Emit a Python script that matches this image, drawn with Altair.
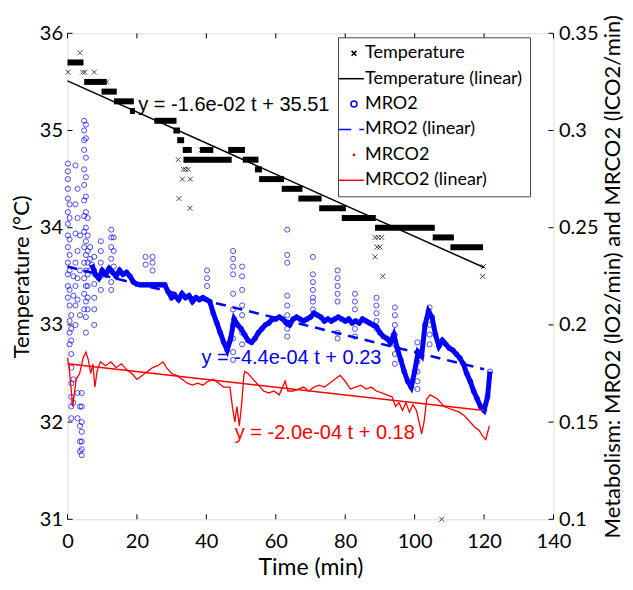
import altair as alt
import pandas as pd

# ---------------- data ----------------
# Temperature: runs of constant readings (level, start, end) in minutes
run_temp  = [35.7, 35.5, 35.4, 35.3, 35.2, 35.1, 35.0, 34.9, 34.8, 34.7, 34.8, 34.8, 34.7, 34.6, 34.5, 34.4, 34.3, 34.2, 34.1, 34.0, 33.9, 33.8]
run_start = [0.0,  4.8,  9.8,  13.4, 18.0, 25.0, 30.5, 31.6, 33.2, 33.4, 38.2, 46.3, 50.5, 54.0, 55.2, 61.7, 66.5, 72.5, 79.0, 88.6, 105.2, 110.3]
run_end   = [4.6,  11.3, 14.2, 19.1, 19.4, 31.4, 32.4, 33.6, 35.8, 47.3, 42.0, 51.1, 55.0, 56.0, 62.4, 67.7, 73.2, 80.2, 88.8, 105.8, 111.3, 119.7]
# isolated temperature readings
iso_t    = [0.2, 3.6, 4.3, 5.0, 7.7, 11.3, 31.9, 33.4, 34.0, 34.8, 33.1, 35.4, 38.5, 32.1, 35.3, 88.6, 89.5, 90.5, 89.2, 90.0, 88.6, 90.8, 119.8, 119.6, 107.8]
iso_temp = [35.6, 35.8, 35.6, 35.6, 35.6, 35.5, 34.7, 34.6, 34.6, 34.6, 34.5, 34.5, 34.8, 34.3, 34.2, 33.9, 33.9, 33.9, 33.8, 33.8, 33.7, 33.5, 33.6, 33.5, 31.0]

# linear fits (endpoints)
fit_t = [0, 120]
temp_fit = [35.51, 33.59]
mro2_fit = [0.23, 0.1772]
mrco2_fit = [0.18, 0.156]

# MRO2 main band
band_t = [7, 8, 9, 10, 11, 12, 13, 14, 15, 16, 17, 18, 19, 20, 21, 22, 23, 24, 25, 26, 27, 28, 29, 30,
          31, 32, 33, 34, 35, 36, 37, 38, 39, 40, 41, 42, 43, 44, 45, 46, 47, 48, 49, 50, 51, 52, 53, 54,
          55, 56, 57, 58, 59, 60, 61, 62, 63, 64, 65, 66, 67, 68, 69, 70, 71, 72, 73, 74, 75, 76, 77, 78,
          79, 80, 81, 82, 83, 84, 85, 86, 87, 88, 89, 90, 91, 92, 93, 94, 95, 96, 97, 98, 99, 100, 101, 102,
          103, 104, 105, 106, 107, 108, 109, 110, 111, 112, 113, 114, 115, 116, 117, 118, 119, 120, 121, 121.7]
band_v = [0.231, 0.226, 0.224, 0.228, 0.226, 0.229, 0.227, 0.225, 0.228, 0.226, 0.227, 0.225, 0.222, 0.221,
          0.2206, 0.2206, 0.2206, 0.2206, 0.2206, 0.2206, 0.2206, 0.2206, 0.217, 0.214, 0.215, 0.213, 0.216,
          0.214, 0.215, 0.212, 0.214, 0.213, 0.214, 0.213, 0.212, 0.206, 0.201, 0.196, 0.191, 0.187, 0.193,
          0.203, 0.200, 0.198, 0.195, 0.192, 0.191, 0.193, 0.196, 0.198, 0.200, 0.201, 0.203, 0.203, 0.204,
          0.203, 0.201, 0.200, 0.203, 0.204, 0.203, 0.202, 0.203, 0.204, 0.206, 0.205, 0.204, 0.202, 0.203,
          0.202, 0.203, 0.204, 0.203, 0.202, 0.203, 0.201, 0.202, 0.201, 0.203, 0.202, 0.201, 0.200, 0.199,
          0.196, 0.194, 0.193, 0.191, 0.195, 0.188, 0.182, 0.176, 0.171, 0.168, 0.176, 0.186, 0.184, 0.200,
          0.207, 0.204, 0.195, 0.189, 0.192, 0.190, 0.188, 0.187, 0.185, 0.183, 0.180, 0.175, 0.171, 0.166,
          0.162, 0.158, 0.156, 0.163, 0.176]

# MRO2 scattered readings (columns of circles)
spike_t = [0.1, 0.6, 1.1, 1.7, 2.3, 2.9, 3.6, 4.1, 4.8, 5.3, 5.8, 6.5, 7.7, 9.6, 12.6, 13.3, 22.5, 24.5,
           40.2, 47.7, 50.3, 63.3, 70.7, 77.8, 82.8, 89.0, 94.3, 100.8, 104.3]
spike_v = [
    [0.283, 0.279, 0.275, 0.270, 0.265, 0.258, 0.252, 0.246, 0.240, 0.232, 0.226, 0.220, 0.214],
    [0.262, 0.255, 0.244, 0.236, 0.228, 0.218, 0.210, 0.202, 0.196, 0.190],
    [0.205, 0.198, 0.192, 0.185, 0.178, 0.170, 0.163, 0.158, 0.152],
    [0.225, 0.215, 0.172, 0.160],
    [0.282, 0.262, 0.247, 0.232, 0.220, 0.210, 0.200],
    [0.270, 0.255, 0.238, 0.224, 0.213, 0.165, 0.152],
    [0.246, 0.228, 0.205, 0.158, 0.148, 0.140, 0.135],
    [0.165, 0.158, 0.150, 0.145, 0.140, 0.136, 0.133],
    [0.305, 0.300, 0.295, 0.290, 0.280, 0.272, 0.264, 0.256, 0.248, 0.240, 0.232, 0.224, 0.216, 0.208],
    [0.303, 0.296, 0.286, 0.276, 0.266, 0.258, 0.250, 0.243, 0.236, 0.228, 0.220, 0.212, 0.204, 0.196],
    [0.255, 0.246, 0.238, 0.232, 0.226, 0.220, 0.214, 0.208],
    [0.240, 0.234, 0.228],
    [0.235, 0.228, 0.221, 0.214, 0.208, 0.200],
    [0.243, 0.238, 0.232, 0.225, 0.218],
    [0.249, 0.245, 0.240, 0.234, 0.228, 0.222, 0.218],
    [0.245, 0.238, 0.230],
    [0.235, 0.231],
    [0.235, 0.232, 0.228],
    [0.228, 0.224, 0.220],
    [0.238, 0.234, 0.230, 0.226, 0.216, 0.208, 0.200, 0.193, 0.186, 0.182],
    [0.230, 0.225, 0.218, 0.210, 0.205, 0.196, 0.190],
    [0.249, 0.236, 0.232, 0.215, 0.210, 0.205, 0.198, 0.194],
    [0.235, 0.226, 0.222, 0.218, 0.214, 0.212, 0.208],
    [0.228, 0.224, 0.220, 0.216, 0.212, 0.196, 0.193],
    [0.216, 0.212, 0.208, 0.198, 0.194],
    [0.214, 0.210, 0.206, 0.202, 0.198],
    [0.209, 0.205, 0.200, 0.195, 0.190, 0.185, 0.180],
    [0.191, 0.186, 0.181, 0.176, 0.171, 0.167],
    [0.209, 0.205, 0.200, 0.195, 0.190],
]

# MRCO2 trace
mrco2_t = [0, 0.5, 1.0, 1.5, 2.0, 2.5, 3.5, 4.5, 5.3, 6.0, 6.7, 7.3, 7.9, 8.5, 9.5, 11, 12.5, 14, 15.5, 17,
           18.5, 20, 21.5, 23, 24.5, 26, 27.5, 28.5, 30, 31.5, 33, 34.5, 36, 37.5, 39, 40.5, 42, 43.5, 45,
           46.8, 47.5, 48.2, 48.8, 49.5, 50.2, 50.8, 51.1, 52, 53.5, 55, 56.5, 58, 59.5, 61, 62.7, 63.5, 65,
           66.5, 68, 69.5, 71, 72.5, 74, 75.5, 77, 78.5, 80, 81.5, 83, 84.5, 86, 87.5, 89, 90.5, 92, 93.5,
           94.5, 95.5, 96.5, 97.5, 98.5, 99.5, 100.5, 101.3, 102, 102.7, 103.5, 104.5, 105.5, 106.5, 107.5,
           108.5, 110, 111.5, 113, 114.5, 115.5, 116.5, 117.5, 118.5, 119.5, 120.5, 121.5]
mrco2_v = [0.183, 0.178, 0.168, 0.158, 0.165, 0.172, 0.175, 0.183, 0.186, 0.182, 0.175, 0.180, 0.168, 0.176,
           0.181, 0.179, 0.181, 0.178, 0.180, 0.177, 0.175, 0.172, 0.174, 0.176, 0.178, 0.179, 0.181, 0.178,
           0.175, 0.174, 0.172, 0.170, 0.169, 0.170, 0.169, 0.171, 0.172, 0.170, 0.168, 0.168, 0.158, 0.150,
           0.158, 0.148, 0.160, 0.174, 0.176, 0.175, 0.172, 0.169, 0.166, 0.165, 0.166, 0.164, 0.171, 0.166,
           0.166, 0.167, 0.168, 0.166, 0.168, 0.169, 0.168, 0.170, 0.172, 0.174, 0.171, 0.167, 0.168, 0.169,
           0.167, 0.168, 0.166, 0.165, 0.164, 0.163, 0.158, 0.160, 0.156, 0.160, 0.155, 0.159, 0.156, 0.150,
           0.144, 0.150, 0.162, 0.164, 0.163, 0.162, 0.160, 0.158, 0.157, 0.156, 0.155, 0.153, 0.151, 0.149,
           0.147, 0.146, 0.143, 0.141, 0.148]

# axes
x_ticks = [0, 20, 40, 60, 80, 100, 120, 140]
left_ticks = [31, 32, 33, 34, 35, 36]
right_ticks = [0.1, 0.15, 0.2, 0.25, 0.3, 0.35]

# legend
series = ["Temperature", "Temperature (linear)", "MRO2", "MRO2 (linear)", "MRCO2", "MRCO2 (linear)"]
series_colors = ["#000000", "#000000", "#0000ff", "#0000ff", "#ff0000", "#ff0000"]
series_shapes = [
    "M-0.8,-0.8L0.8,0.8M-0.8,0.8L0.8,-0.8",
    "M-5,0L3.3,0",
    "M-1,0A1,1 0 1,0 1,0A1,1 0 1,0 -1,0",
    "M-5,0L-0.9,0M1.8,0L3.3,0",
    "M-0.2,0A0.2,0.2 0 1,0 0.2,0A0.2,0.2 0 1,0 -0.2,0",
    "M-5,0L3.3,0",
]

# fit annotations
note_left_t, note_left_v, note_left_text = [20.4], [35.262], ["y = -1.6e-02 t + 35.51"]
note_right_t = [38.6, 48.2]
note_right_v = [0.1831, 0.1446]
note_right_text = ["y = -4.4e-04 t + 0.23", "y = -2.0e-04 t + 0.18"]
note_right_color = ["#0000ff", "#ff0000"]

# ---------------- chart ----------------
W = H = 486
FONT = "Lato"
BLUE, RED = "#0000ff", "#ff0000"
CROSS = "M-1,-1L1,1M-1,1L1,-1"

xs = alt.Scale(domain=[0, 140], nice=False, zero=False)
ysL = alt.Scale(domain=[31, 36], nice=False, zero=False)
ysR = alt.Scale(domain=[0.1, 0.35], nice=False, zero=False)

common = dict(domain=False, ticks=False, grid=False, labelFont=FONT, labelFontSize=20,
              labelColor="black", titleFont=FONT, titleFontWeight="normal",
              titleColor="black", labelFlush=False, labelOverlap=False)
x_axis = alt.Axis(values=x_ticks, title="Time (min)", orient="bottom", labelPadding=12,
                  titlePadding=5, titleFontSize=23, **common)
yL_axis = alt.Axis(values=left_ticks, title="Temperature (°C)", orient="left", labelPadding=5,
                   titlePadding=6, titleFontSize=22, format="d", **common)
yR_axis = alt.Axis(values=right_ticks, title="Metabolism: MRO2 (lO2/min) and MRCO2 (lCO2/min)",
                   orient="right", labelPadding=5, titlePadding=4, titleFontSize=22, titleAngle=270,
                   titleBaseline="top", format="~g", **common)


def X(field):
    return alt.X(field, type="quantitative", scale=xs, axis=x_axis)


def YL(field):
    return alt.Y(field, type="quantitative", scale=ysL, axis=yL_axis)


def YR(field):
    return alt.Y(field, type="quantitative", scale=ysR, axis=yR_axis)


runs_df = pd.DataFrame({"t": run_start, "t1": run_end, "temp": run_temp})
iso_df = pd.DataFrame({"t": iso_t, "temp": iso_temp})
tfit_df = pd.DataFrame({"t": fit_t, "temp": temp_fit})

runs = alt.Chart(runs_df).mark_rule(color="black", strokeWidth=6).encode(
    x=X("t"), x2="t1:Q", y=YL("temp"))
iso = alt.Chart(iso_df).mark_point(shape=CROSS, filled=False, color="black", size=25, strokeWidth=1).encode(
    x=X("t"), y=YL("temp"))
tfit = alt.Chart(tfit_df).mark_line(color="black", strokeWidth=1.5).encode(x=X("t"), y=YL("temp"))
tnote = alt.Chart(pd.DataFrame({"t": note_left_t, "temp": note_left_v, "label": note_left_text})).mark_text(
    align="left", baseline="middle", font="Liberation Sans", fontSize=20, color="black").encode(
    x=X("t"), y=YL("temp"), text="label:N")

legend = alt.Legend(title=None, orient="none", legendX=270.5, legendY=4, direction="vertical",
                    symbolSize=36, symbolStrokeWidth=1.5, symbolOpacity=1, labelFont=FONT,
                    labelFontSize=18, labelColor="black", rowPadding=7.4, padding=7,
                    strokeColor="#444444", fillColor="white", symbolOffset=0, labelOffset=2,
                    cornerRadius=0, labelLimit=0, labelExpr="datum.label + '  '")
leg_df = pd.DataFrame({"series": series, "t": [0.0] * 6, "temp": [31.0] * 6})
leg = alt.Chart(leg_df).mark_point(filled=False, opacity=0).encode(
    x=X("t"), y=YL("temp"),
    color=alt.Color("series:N", scale=alt.Scale(domain=series, range=series_colors), legend=legend),
    shape=alt.Shape("series:N", scale=alt.Scale(domain=series, range=series_shapes), legend=legend))

xt_df = pd.DataFrame({"t": x_ticks})
bt = alt.Chart(xt_df).mark_rule(color="black", strokeWidth=1).encode(
    x=X("t"), y=alt.value(H), y2=alt.value(H - 5))
tt = alt.Chart(xt_df).mark_rule(color="black", strokeWidth=1).encode(
    x=X("t"), y=alt.value(0), y2=alt.value(5))
lt = alt.Chart(pd.DataFrame({"temp": left_ticks})).mark_rule(color="black", strokeWidth=1).encode(
    y=YL("temp"), x=alt.value(0), x2=alt.value(5))

left = alt.layer(runs, iso, tfit, tnote, leg, bt, tt, lt)

band_df = pd.DataFrame({"t": band_t, "v": band_v})
sp_rows = [(t, v) for t, vs in zip(spike_t, spike_v) for v in vs]
sp_df = pd.DataFrame(sp_rows, columns=["t", "v"])
mfit_df = pd.DataFrame({"t": fit_t, "v": mro2_fit})
co2_df = pd.DataFrame({"t": mrco2_t, "v": mrco2_v})
cfit_df = pd.DataFrame({"t": fit_t, "v": mrco2_fit})

band_line = alt.Chart(band_df).mark_line(color=BLUE, strokeWidth=5).encode(x=X("t"), y=YR("v"))
band_pts = alt.Chart(band_df).mark_point(shape="circle", filled=False, color=BLUE, size=26, strokeWidth=1).encode(
    x=X("t"), y=YR("v"))
sp_pts = alt.Chart(sp_df).mark_point(shape="circle", filled=False, color=BLUE, size=26, strokeWidth=1).encode(
    x=X("t"), y=YR("v"))
mfit = alt.Chart(mfit_df).mark_line(color=BLUE, strokeWidth=2.5, strokeDash=[10, 7]).encode(
    x=X("t"), y=YR("v"))
co2 = alt.Chart(co2_df).mark_line(color=RED, strokeWidth=1.3).encode(x=X("t"), y=YR("v"))
cfit = alt.Chart(cfit_df).mark_line(color=RED, strokeWidth=1.5).encode(x=X("t"), y=YR("v"))
rnote = alt.Chart(pd.DataFrame({"t": note_right_t, "v": note_right_v, "label": note_right_text,
                                "c": note_right_color})).mark_text(
    align="left", baseline="middle", font="Liberation Sans", fontSize=20).encode(
    x=X("t"), y=YR("v"), text="label:N", color=alt.Color("c:N", scale=None, legend=None))
rt = alt.Chart(pd.DataFrame({"v": right_ticks})).mark_rule(color="black", strokeWidth=1).encode(
    y=YR("v"), x=alt.value(W), x2=alt.value(W - 5))

right = alt.layer(band_line, band_pts, sp_pts, mfit, co2, cfit, rnote, rt)

chart = alt.layer(left, right).resolve_scale(y="independent").properties(
    width=W, height=H,
    autosize=alt.AutoSizeParams(type="none"),
    padding={"left": 59.5, "top": 25.3, "right": 71.5, "bottom": 62},
).configure_view(stroke="black", strokeWidth=1).configure(background="white")

chart.save("out.html", embed_options={"renderer": "svg", "actions": False})
